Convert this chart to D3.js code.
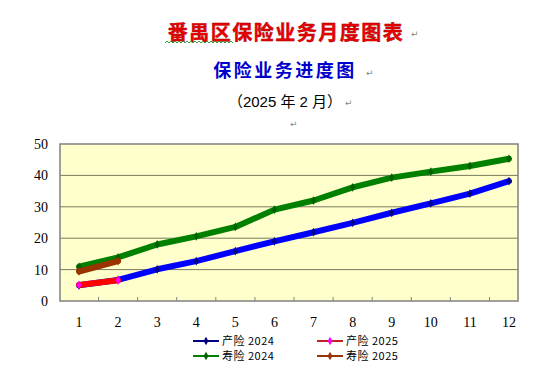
<!DOCTYPE html>
<html>
<head>
<meta charset="utf-8">
<script src="https://cdn.jsdelivr.net/npm/d3@7"></script>
<style>
body { margin: 0; background: #fff; }
</style>
</head>
<body>
<div id="chart"></div>
<script>
// data
var months = [1, 2, 3, 4, 5, 6, 7, 8, 9, 10, 11, 12];
var chan2024 = [5.0, 6.7, 10.1, 12.7, 15.9, 19.0, 21.9, 24.9, 28.1, 31.1, 34.2, 38.2];
var shou2024 = [10.9, 13.9, 18.0, 20.6, 23.6, 29.1, 32.0, 36.2, 39.3, 41.2, 43.0, 45.3];
var chan2025 = [5.1, 6.6];
var shou2025 = [9.4, 12.7];
var yTicks = [0, 10, 20, 30, 40, 50];

var series = [
    {name: "产险 2024", values: chan2024, line: "#0000ff", marker: "#000080", legendLine: "#000080"},
    {name: "寿险 2024", values: shou2024, line: "#008000", marker: "#006000", legendLine: "#008000"},
    {name: "产险 2025", values: chan2025, line: "#ff0000", marker: "#ff00ff", legendLine: "#c02020"},
    {name: "寿险 2025", values: shou2025, line: "#993300", marker: "#993300", legendLine: "#993300"}
];

var width = 545, height = 380;
var plot = {left: 60, right: 518, top: 144, bottom: 301};

var svg = d3.select("#chart").append("svg")
    .attr("width", width)
    .attr("height", height);

// titles
var cjk = "'Noto Sans CJK SC', sans-serif";
svg.append("text")
    .attr("x", 286).attr("y", 40)
    .attr("text-anchor", "middle")
    .style("font-family", cjk).style("font-size", "20px").style("font-weight", "bold")
    .style("letter-spacing", "1.5px")
    .attr("fill", "#ee0000").attr("stroke", "#990000").attr("stroke-width", 0.4)
    .text("番禺区保险业务月度图表");
// green wavy underline under the first three characters
var wave = "M165,43";
for (var wx = 165; wx < 232; wx += 4) wave += " L" + (wx + 2) + ",41 L" + (wx + 4) + ",43";
svg.append("path").attr("d", wave).attr("fill", "none").attr("stroke", "#3c9a3c").attr("stroke-width", 1);

svg.append("text")
    .attr("x", 285).attr("y", 77)
    .attr("text-anchor", "middle")
    .style("font-family", cjk).style("font-size", "18px").style("font-weight", "bold")
    .style("letter-spacing", "2.5px")
    .attr("fill", "#0000cc")
    .text("保险业务进度图");

svg.append("text")
    .attr("x", 285).attr("y", 107)
    .attr("text-anchor", "middle")
    .style("font-family", "'Liberation Sans', " + cjk).style("font-size", "15px")
    .attr("fill", "#000")
    .text("（2025 年 2 月）");

// paragraph marks
[[411, 37], [366, 76], [345, 106], [290, 127]].forEach(function(p) {
    svg.append("text").attr("x", p[0]).attr("y", p[1])
        .style("font-family", "'DejaVu Sans', sans-serif").style("font-size", "9px")
        .attr("fill", "#888").text("↵");
});

// scales
var x = d3.scalePoint()
    .domain(months)
    .range([79, 509]);

var y = d3.scaleLinear()
    .domain([0, 50])
    .range([plot.bottom, plot.top]);

// plot area
svg.append("rect")
    .attr("x", plot.left).attr("y", plot.top)
    .attr("width", plot.right - plot.left).attr("height", plot.bottom - plot.top)
    .attr("fill", "#ffffcc");

svg.selectAll(".grid")
    .data(yTicks.slice(1, -1))
    .enter().append("line")
    .attr("class", "grid")
    .attr("x1", plot.left).attr("x2", plot.right)
    .attr("y1", function(d) { return y(d); })
    .attr("y2", function(d) { return y(d); })
    .attr("stroke", "#7a7a60").attr("stroke-width", 1);

svg.append("rect")
    .attr("x", plot.left).attr("y", plot.top)
    .attr("width", plot.right - plot.left).attr("height", plot.bottom - plot.top)
    .attr("fill", "none").attr("stroke", "#808080").attr("stroke-width", 1.5);

// y axis labels
var serif = "'Liberation Serif', 'DejaVu Serif', serif";
svg.selectAll(".ylab")
    .data(yTicks)
    .enter().append("text")
    .attr("class", "ylab")
    .attr("x", 48)
    .attr("y", function(d) { return y(d) + 5; })
    .attr("text-anchor", "end")
    .style("font-family", serif).style("font-size", "14px")
    .text(function(d) { return d; });

// x axis: ticks between categories, labels below
var mids = months.slice(0, -1).map(function(m, i) { return (x(m) + x(months[i + 1])) / 2; });
svg.selectAll(".xtick")
    .data(mids)
    .enter().append("line")
    .attr("class", "xtick")
    .attr("x1", function(d) { return d; }).attr("x2", function(d) { return d; })
    .attr("y1", plot.bottom - 4).attr("y2", plot.bottom)
    .attr("stroke", "#808080");

svg.selectAll(".xlab")
    .data(months)
    .enter().append("text")
    .attr("class", "xlab")
    .attr("x", function(d) { return x(d); })
    .attr("y", 327)
    .attr("text-anchor", "middle")
    .style("font-family", serif).style("font-size", "14px")
    .text(function(d) { return d; });

// lines
var line = d3.line()
    .x(function(d, i) { return x(months[i]); })
    .y(function(d) { return y(d); });

var diamond = d3.symbol().type(d3.symbolDiamond).size(22);

series.forEach(function(s) {
    svg.append("path")
        .datum(s.values)
        .attr("d", line)
        .attr("fill", "none")
        .attr("stroke", s.line)
        .attr("stroke-width", 6)
        .attr("stroke-linejoin", "round")
        .attr("stroke-linecap", "round");
    svg.selectAll(null)
        .data(s.values)
        .enter().append("path")
        .attr("d", diamond)
        .attr("transform", function(d, i) { return "translate(" + x(months[i]) + "," + y(d) + ")"; })
        .attr("fill", s.marker);
});

// legend
var legendPos = [[193, 341], [193, 356], [317, 341], [317, 356]];
series.forEach(function(s, k) {
    var p = legendPos[k];
    svg.append("line")
        .attr("x1", p[0]).attr("x2", p[0] + 26)
        .attr("y1", p[1]).attr("y2", p[1])
        .attr("stroke", s.legendLine).attr("stroke-width", 2);
    svg.append("path")
        .attr("d", d3.symbol().type(d3.symbolDiamond).size(20))
        .attr("transform", "translate(" + (p[0] + 13) + "," + p[1] + ")")
        .attr("fill", s.marker);
    svg.append("text")
        .attr("x", p[0] + 29).attr("y", p[1] + 4)
        .style("font-family", cjk).style("font-size", "11px")
        .style("letter-spacing", "0.5px")
        .text(s.name);
});
</script>
</body>
</html>
